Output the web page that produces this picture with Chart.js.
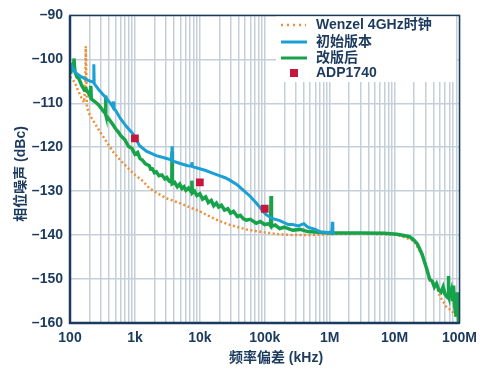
<!DOCTYPE html>
<html>
<head>
<meta charset="utf-8">
<script src="https://cdn.jsdelivr.net/npm/chart.js@4.4.1/dist/chart.umd.min.js"></script>
<style>
  html, body { margin: 0; padding: 0; background: #ffffff; }
</style>
</head>
<body>
<canvas id="chart" width="484" height="371"></canvas>
<script>
// --- data (x in kHz, y in dBc) ---
const decades = [100, 1000, 10000, 100000, 1000000, 10000000, 100000000];
const xTickLabels = ['100', '1k', '10k', '100k', '1M', '10M', '100M'];
const yTicks = [-160, -150, -140, -130, -120, -110, -100, -90];

const seriesNames = ['Wenzel 4GHz时钟', '初始版本', '改版后', 'ADP1740'];

const wenzelFreq = [100, 104, 119, 137, 152, 165, 172, 175, 178, 182, 202, 240, 287, 360, 453, 600, 742, 1000, 1300, 1665, 2130, 3030, 4500, 6100, 10000, 12300, 16400, 20000, 30900, 52000, 100000, 170000, 270000, 460000, 1000000, 3000000, 10900000, 20000000, 26600000, 31200000, 35000000, 44300000, 50000000, 55000000, 63000000, 75000000, 89000000, 100000000];
const wenzelLevel = [-104, -104.2, -105.3, -107.5, -108.9, -109.8, -105, -97, -103, -110.8, -112.7, -114.5, -116.4, -118.6, -120.9, -123, -124.4, -126.3, -127.6, -129.3, -130.3, -131.6, -132.5, -133.3, -134.6, -135.3, -136.2, -136.8, -137.8, -138.7, -139.4, -139.8, -140, -140, -139.8, -139.7, -139.9, -141.3, -144.6, -147.9, -150.4, -151.6, -154, -154.9, -156.4, -157.1, -158.6, -159.5];

const initialFreq = [100, 110, 123, 150, 190, 228, 232, 234, 236, 280, 354, 420, 455, 465, 475, 503, 600, 742, 914, 1000, 1170, 1500, 2130, 3000, 3700, 3730, 3760, 5000, 6500, 7400, 7540, 7700, 10000, 12300, 16400, 19500, 25000, 29800, 38000, 47000, 60000, 74000, 94000, 104000, 130000, 170000, 230000, 270000, 330000, 400000, 460000, 600000, 730000, 950000, 1080000, 1100000, 1120000, 1180000];
const initialLevel = [-100.9, -102, -103.1, -104, -104.8, -105.2, -104.8, -101.1, -105.5, -107, -108.7, -110, -110.8, -109.6, -111.3, -111.6, -113.5, -115.3, -116.8, -117.6, -119.6, -120.9, -121.9, -122.5, -122.9, -119.8, -123.1, -123.7, -124.2, -124.3, -123.4, -124.4, -124.9, -125.3, -126, -126.4, -127, -127.6, -128.6, -129.8, -131.2, -132.7, -134.5, -135.3, -136.2, -136.7, -137.6, -137.6, -137.9, -137.4, -138.2, -138.7, -139.3, -139.4, -139.3, -137, -139.6, -139.8];

const revisedFreq = [100, 105, 112, 115, 119, 128, 137, 152, 165, 175, 195, 205, 209, 213, 240, 277, 320, 350, 354, 358, 408, 460, 503, 560, 600, 700, 795, 900, 1000, 1100, 1200, 1300, 1450, 1665, 1750, 1850, 2000, 2130, 2350, 2600, 2900, 3100, 3370, 3700, 3730, 3760, 4100, 4500, 4900, 5280, 5700, 6100, 6700, 7400, 7540, 7680, 8300, 9000, 10000, 11000, 12300, 13500, 15000, 16400, 18000, 19500, 21500, 24000, 27000, 29800, 33000, 38000, 42000, 47000, 52000, 60000, 74000, 85000, 100000, 115000, 123000, 125000, 127000, 145000, 170000, 200000, 270000, 350000, 460000, 1000000, 3000000, 7000000, 10900000, 14000000, 17200000, 20000000, 22400000, 24500000, 26600000, 28800000, 31200000, 34600000, 38000000, 41000000, 44300000, 48000000, 52000000, 56000000, 60000000, 64000000, 67000000, 67500000, 68000000, 72000000, 75000000, 78000000, 81000000, 84000000, 89000000, 93000000, 97000000, 100000000];
const revisedLevel = [-102, -102.5, -101, -99.8, -102.8, -104, -104.4, -106, -106.9, -106.7, -107.8, -108.5, -106, -109, -109.6, -110.4, -111.6, -112.3, -108.2, -112.7, -113.8, -114.9, -115.8, -116.6, -117.3, -118.3, -119.8, -120.3, -121.6, -121.2, -122.6, -122.9, -123.8, -124.2, -125, -124.9, -125.8, -125.6, -126.5, -126.3, -127.2, -126.9, -127.7, -128, -121, -128.3, -128, -129, -128.4, -129.4, -129, -129.8, -129.3, -130.2, -127.6, -130.4, -130, -131, -130.6, -131.8, -131.3, -132.6, -132.1, -133.3, -132.7, -133.6, -133.2, -134.3, -134, -135, -134.6, -135.8, -135.5, -136.3, -136.6, -136.4, -137.3, -136.9, -137.6, -137.4, -137.9, -131.1, -138, -137.7, -138.5, -138.2, -138.9, -138.7, -139.2, -139.5, -139.5, -139.6, -139.8, -140.1, -140.4, -141.2, -142, -143.2, -144.4, -146, -147.6, -150, -150.5, -151.8, -151, -152.5, -153, -151.8, -153.5, -154, -153.8, -149.3, -154, -153.8, -152.7, -155, -151.5, -156, -158.5, -153, -159.5, -160];

const adpFreq = [1000, 10000, 100000];
const adpLevel = [-118, -128, -134];

const colors = ['#ee8f35', '#1ba0d4', '#17a34a', '#c8173f'];
const ink = '#1b3a5e';
const fontFamily = "'Liberation Sans', 'Noto Sans CJK SC', Arial, sans-serif";

const toPoints = (xs, ys) => xs.map((x, i) => ({ x: x, y: ys[i] }));

// minor grid: 1..9 in each decade
const xGrid = [];
decades.forEach((d, i) => {
  if (i === decades.length - 1) { xGrid.push(d); return; }
  for (let m = 1; m <= 9; m++) xGrid.push(d * m);
});

// legend drawn inside the plot, top right, on a white box
const legendPlugin = {
  id: 'boxLegend',
  afterDatasetsDraw(chart) {
    const ctx = chart.ctx;
    ctx.save();
    ctx.fillStyle = '#ffffff';
    ctx.fillRect(276, 14, 180, 68);
    ctx.font = 'bold 14px ' + fontFamily;
    ctx.textBaseline = 'middle';
    ctx.textAlign = 'left';
    const rows = [25, 42, 58, 73];
    rows.forEach((y, i) => {
      ctx.strokeStyle = colors[i];
      ctx.fillStyle = colors[i];
      if (i === 0) {
        ctx.lineWidth = 2.5;
        ctx.setLineDash([2, 4]);
        ctx.beginPath(); ctx.moveTo(281, y); ctx.lineTo(306, y); ctx.stroke();
        ctx.setLineDash([]);
      } else if (i < 3) {
        ctx.lineWidth = 3;
        ctx.beginPath(); ctx.moveTo(281, y); ctx.lineTo(307, y); ctx.stroke();
      } else {
        ctx.fillRect(290, y - 4, 8, 8);
      }
      ctx.fillStyle = ink;
      ctx.fillText(seriesNames[i], 316, y);
    });
    ctx.restore();
  }
};

// frame and axis titles
const framePlugin = {
  id: 'frame',
  afterDraw(chart) {
    const ctx = chart.ctx;
    const a = chart.chartArea;
    ctx.save();
    ctx.strokeStyle = ink;
    ctx.lineWidth = 1.5;
    ctx.strokeRect(a.left, a.top, a.right - a.left, a.bottom - a.top);
    ctx.lineWidth = 2.5;
    ctx.beginPath();
    ctx.moveTo(a.left, a.top); ctx.lineTo(a.left, a.bottom); ctx.lineTo(a.right, a.bottom);
    ctx.stroke();

    ctx.fillStyle = ink;
    ctx.font = 'bold 14px ' + fontFamily;
    ctx.textAlign = 'center';
    ctx.textBaseline = 'middle';
    ctx.fillText('频率偏差 (kHz)', 276, 358);
    ctx.translate(21, 174);
    ctx.rotate(-Math.PI / 2);
    ctx.fillText('相位噪声 (dBc)', 0, 0);
    ctx.restore();
  }
};

const baseLine = { pointRadius: 0, pointHoverRadius: 0, tension: 0, fill: false, showLine: true };

new Chart(document.getElementById('chart'), {
  type: 'scatter',
  data: {
    datasets: [
      Object.assign({}, baseLine, {
        label: seriesNames[0], data: toPoints(wenzelFreq, wenzelLevel),
        borderColor: colors[0], borderWidth: 2.5, borderDash: [2, 2.5], order: 4
      }),
      Object.assign({}, baseLine, {
        label: seriesNames[1], data: toPoints(initialFreq, initialLevel),
        borderColor: colors[1], borderWidth: 3, order: 2
      }),
      Object.assign({}, baseLine, {
        label: seriesNames[2], data: toPoints(revisedFreq, revisedLevel),
        borderColor: colors[2], borderWidth: 3.5, order: 3
      }),
      {
        label: seriesNames[3], data: toPoints(adpFreq, adpLevel),
        showLine: false, pointStyle: 'rect', pointRadius: 5.5,
        backgroundColor: colors[3], borderColor: colors[3], borderWidth: 0, order: 1
      }
    ]
  },
  options: {
    responsive: false,
    animation: false,
    layout: { padding: { top: 8, right: 21, left: 0, bottom: 0 } },
    plugins: { legend: { display: false }, tooltip: { enabled: false } },
    scales: {
      x: {
        type: 'logarithmic',
        min: 100,
        max: 100000000,
        afterBuildTicks: (scale) => { scale.ticks = xGrid.map(v => ({ value: v })); },
        afterFit: (scale) => { scale.height = 48; },
        ticks: {
          autoSkip: false, maxRotation: 0, padding: 7,
          color: ink, font: { family: fontFamily, size: 14, weight: 'bold' },
          callback: (v) => {
            const i = decades.indexOf(v);
            return i >= 0 ? xTickLabels[i] : '';
          }
        },
        grid: { color: '#c5cfda', lineWidth: 1.5, drawTicks: false },
        border: { display: false }
      },
      y: {
        min: -160,
        max: -90,
        afterBuildTicks: (scale) => { scale.ticks = yTicks.map(v => ({ value: v })); },
        afterFit: (scale) => { scale.width = 70; },
        ticks: {
          padding: 7,
          color: ink, font: { family: fontFamily, size: 14, weight: 'bold' },
          callback: (v) => '–' + Math.abs(v)
        },
        grid: { color: '#c5cfda', lineWidth: 1.5, drawTicks: false },
        border: { display: false }
      }
    }
  },
  plugins: [legendPlugin, framePlugin]
});
</script>
</body>
</html>
